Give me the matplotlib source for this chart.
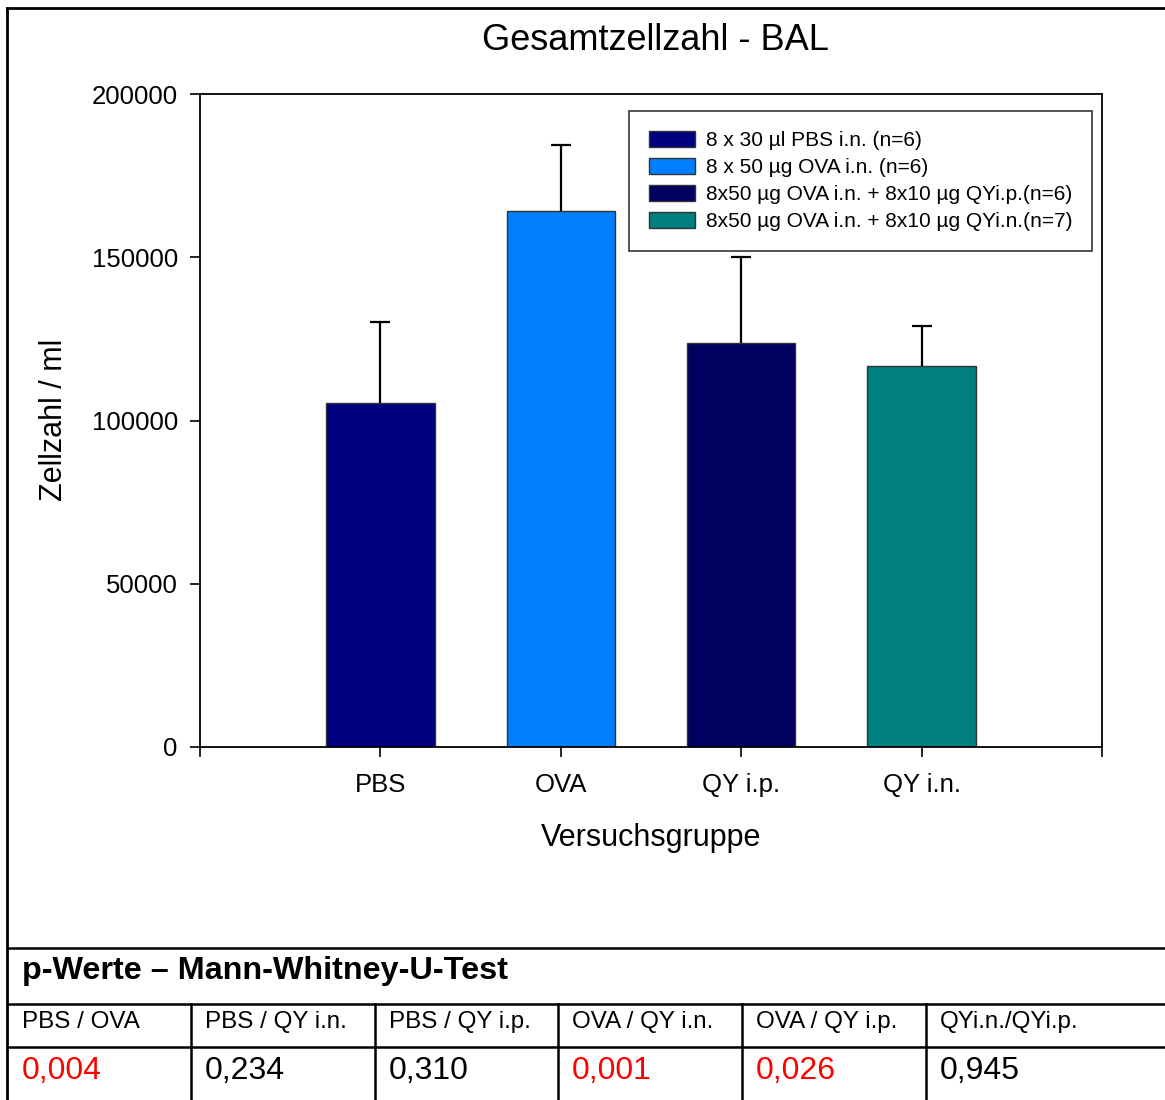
import matplotlib
matplotlib.use("Agg")
import matplotlib.pyplot as plt
from matplotlib.lines import Line2D
import numpy as np

plt.rcParams['font.family'] = ['Liberation Sans', 'DejaVu Sans']

# Data
groups = ['PBS', 'OVA', 'QY i.p.', 'QY i.n.']
means = [105400, 164200, 123700, 116700]
errors = [24800, 20200, 26400, 12300]
bar_colors = ['#000080', '#0080FF', '#000060', '#008080']
legend_labels = [
    '8 x 30 µl PBS i.n. (n=6)',
    '8 x 50 µg OVA i.n. (n=6)',
    '8x50 µg OVA i.n. + 8x10 µg QYi.p.(n=6)',
    '8x50 µg OVA i.n. + 8x10 µg QYi.n.(n=7)',
]
yticks = [0, 50000, 100000, 150000, 200000]

# p-values table
comparisons = ['PBS / OVA', 'PBS / QY i.n.', 'PBS / QY i.p.',
               'OVA / QY i.n.', 'OVA / QY i.p.', 'QYi.n./QYi.p.']
p_values = ['0,004', '0,234', '0,310', '0,001', '0,026', '0,945']
significant = [True, False, False, True, True, False]

W, H = 1165, 1100
fig = plt.figure(figsize=(W / 100, H / 100), dpi=100)


def fx(px):
    return px / W


def fy(py):
    return 1 - py / H


# Bar chart
ax = fig.add_axes([fx(200), fy(747), fx(1102) - fx(200), fy(94) - fy(747)])
x = np.arange(1, len(groups) + 1)
bars = ax.bar(x, means, width=0.6, color=bar_colors,
              edgecolor='#333333', linewidth=1.0, zorder=2)
eb = ax.errorbar(x, means, yerr=[np.zeros(len(errors)), errors], fmt='none',
                 ecolor='black', elinewidth=1.6, capsize=7.5, capthick=1.6,
                 zorder=3)
# only the upper caps are shown
for cap in eb[1]:
    if np.allclose(cap.get_ydata(), means):
        cap.set_visible(False)

ax.set_xlim(0, 5)
ax.set_ylim(0, 200000)
ax.set_yticks(yticks)
ax.set_yticklabels([str(t) for t in yticks])
ax.set_xticks(range(0, 6))
ax.set_xticklabels([''] + groups + [''])
ax.tick_params(axis='both', direction='out', length=7, width=1.2,
               labelsize=18.5, colors='black')
ax.tick_params(axis='x', pad=12)
ax.tick_params(axis='y', pad=9)
for sp in ax.spines.values():
    sp.set_linewidth(1.3)

leg = ax.legend(bars, legend_labels, loc='upper left',
                bbox_to_anchor=((629 - 200) / 902, (747 - 111) / 653),
                borderaxespad=0, fontsize=15, frameon=True, fancybox=False,
                edgecolor='black', handlelength=2.2, handleheight=0.85,
                handletextpad=0.55, labelspacing=0.36, borderpad=0.95)
leg.get_frame().set_linewidth(1.2)

fig.text(fx(655), fy(40), 'Gesamtzellzahl - BAL', fontsize=26,
         ha='center', va='center')
fig.text(fx(54), fy(420), 'Zellzahl / ml', fontsize=22, rotation=90,
         ha='center', va='center')
fig.text(fx(651), fy(838), 'Versuchsgruppe', fontsize=22,
         ha='center', va='center')

# Outer frame (left and top edges; right/bottom run off the picture)
fig.add_artist(Line2D([fx(7), fx(7)], [fy(8), 0], color='black', lw=2))
fig.add_artist(Line2D([fx(7), 1], [fy(8), fy(8)], color='black', lw=2))

# Table
col_edges = [8, 191, 375, 558, 742, 926]
for py in [948, 1004, 1047]:
    fig.add_artist(Line2D([fx(8), 1], [fy(py), fy(py)], color='black', lw=1.8))
for px in col_edges[1:]:
    fig.add_artist(Line2D([fx(px), fx(px)], [fy(1004), 0], color='black', lw=1.8))

fig.text(fx(22), fy(971), 'p-Werte – Mann-Whitney-U-Test', fontsize=23.3,
         fontweight='bold', ha='left', va='center')
for left, label, pv, sig in zip(col_edges, comparisons, p_values, significant):
    fig.text(fx(left + 14), fy(1022), label, fontsize=17.4,
             ha='left', va='center')
    fig.text(fx(left + 14), fy(1071), pv, fontsize=23,
             color='#FF0000' if sig else 'black', ha='left', va='center')

fig.savefig('out.png', dpi=100)
